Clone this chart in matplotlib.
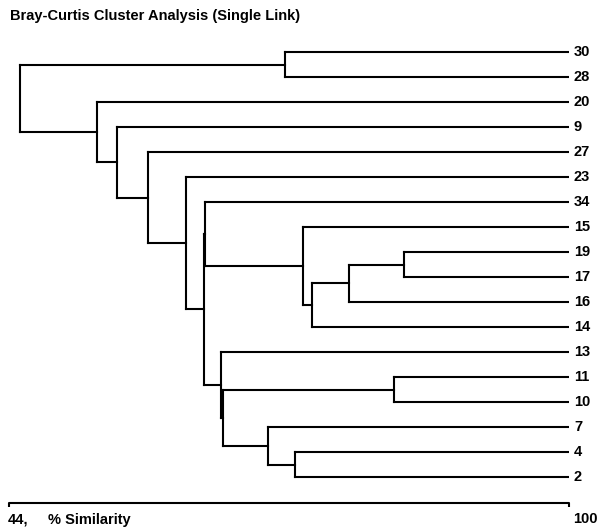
import matplotlib
matplotlib.use("Agg")
import matplotlib.pyplot as plt

# leaf order top to bottom
leaves = ["30", "28", "20", "9", "27", "23", "34", "15", "19",
          "17", "16", "14", "13", "11", "10", "7", "4", "2"]

# merges, in order: left child, right child, % similarity
# children are leaf names or "m<k>" for an earlier merge
merge_left = ["30", "19", "m1", "m2", "15", "34", "11", "4", "7",
              "m6", "13", "m5", "23", "27", "9", "20", "m0"]
merge_right = ["28", "17", "16", "14", "m3", "m4", "10", "2", "m7",
               "m8", "m9", "m10", "m11", "m12", "m13", "m14", "m15"]
merge_sim = [71.6, 83.5, 78.0, 74.3, 73.4, 63.6, 82.5, 72.6, 69.9,
             65.4, 65.2, 63.5, 61.7, 57.9, 54.8, 52.8, 45.1]

xmin, xmax = 44, 100
W, H = 599, 527


def main():
    fig = plt.figure(figsize=(W / 100, H / 100), dpi=100)
    # axes placed so that 44..100 spans pixels 9..569, leaves 25px apart from y=52
    ax = fig.add_axes([9 / W, 0, 560 / W, 1])
    ax.set_xlim(xmin, xmax)
    ax.set_ylim((H - 52) / 25, -52 / 25)
    ax.axis("off")

    kw = dict(color="k", lw=1.5, solid_capstyle="projecting")

    pos = {}
    for i, name in enumerate(leaves):
        pos[name] = (xmax, i)

    for k, (a, b, s) in enumerate(zip(merge_left, merge_right, merge_sim)):
        xa, ya = pos[a]
        xb, yb = pos[b]
        ax.plot([s, s], [ya, yb], **kw)
        ax.plot([s, xa], [ya, ya], **kw)
        ax.plot([s, xb], [yb, yb], **kw)
        pos[f"m{k}"] = (s, (ya + yb) / 2)

    for i, name in enumerate(leaves):
        ax.text(xmax + 0.5, i, name, fontsize=10.5, fontweight="bold",
                family="Liberation Sans", va="center", ha="left")

    # similarity scale line with end ticks
    yax = (503 - 52) / 25
    ax.plot([xmin, xmin, xmax, xmax], [yax + 0.16, yax, yax, yax + 0.16],
            color="k", lw=1.5, solid_capstyle="butt", clip_on=False)

    tkw = dict(fontsize=10.5, fontweight="bold", family="Liberation Sans", va="center")
    fig.text(8 / W, 1 - 520 / H, "44,", ha="left", **tkw)
    fig.text(48 / W, 1 - 520 / H, "% Similarity", ha="left", **tkw)
    fig.text(573 / W, 1 - 519 / H, "100", ha="left", **tkw)

    fig.text(10 / W, 1 - 16 / H, "Bray-Curtis Cluster Analysis (Single Link)",
             fontsize=10.5, fontweight="bold", family="Liberation Sans",
             ha="left", va="center")

    fig.savefig("out.png", dpi=100)


main()
